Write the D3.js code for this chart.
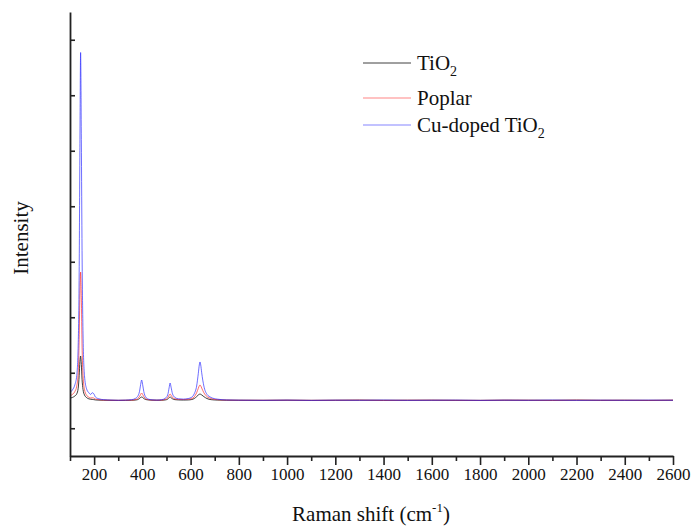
<!DOCTYPE html>
<html>
<head>
<meta charset="utf-8">
<script src="https://cdn.jsdelivr.net/npm/d3@7/dist/d3.min.js"></script>
<style>
  html, body { margin: 0; padding: 0; background: #fff; }
  svg { display: block; }
  text { font-family: "Liberation Serif", "Times New Roman", serif; fill: #111; }
</style>
</head>
<body>
<svg id="chart" width="691" height="526"></svg>
<script>
// Raman shift grid (cm-1)
const ramanShift = [100,110,120,128,134,138,141,144,147,150,
  154,160,168,178,186,192,198,206,220,240,
  270,300,330,355,370,380,388,393,397,401,
  406,414,425,440,460,480,495,505,511,515,
  519,525,535,550,570,590,605,615,625,632,
  636,639,642,646,655,668,685,710,750,800,
  900,1000,1100,1200,1300,1400,1500,1600,1700,1800,1900,2000,2100,2200,2300,2400,2500,2600];

const tio2 = [540,555,580,620,720,950,1200,1302,1150,880,
  700,600,555,530,522,520,516,510,507,505,
  503,502,503,505,508,515,535,555,563,555,
  535,518,510,506,505,505,510,525,550,563,
  550,530,515,510,508,510,518,535,570,600,
  612,617,612,600,570,535,515,508,505,504,
  503,505,502,504,506,503,504,505,503,502,505,504,503,506,503,504,502,505];

const poplar = [580,610,660,760,1000,1600,2400,2815,2350,1500,
  950,700,600,560,545,550,545,525,515,508,
  505,503,505,507,515,530,570,610,635,610,
  570,530,515,508,505,508,520,545,595,617,
  595,555,530,520,518,522,535,565,640,720,
  765,779,765,725,640,570,535,515,508,505,
  504,506,503,505,507,503,505,506,504,502,506,505,503,507,504,505,503,506];

const cuDoped = [640,690,780,950,1500,2800,5000,6770,5200,3200,
  1700,950,720,640,610,640,625,560,530,515,
  508,504,507,515,535,570,660,790,869,790,
  660,560,525,512,507,515,540,600,730,815,
  740,620,555,530,525,535,560,620,760,990,
  1140,1194,1140,1000,760,610,555,525,510,506,
  503,507,502,506,504,508,503,505,507,502,506,504,508,503,506,504,507,505];

const seriesNames = ["TiO", "Poplar", "Cu-doped TiO"];
const seriesSubs = ["2", "", "2"];
const seriesColors = ["#000000", "#ff2020", "#2020ff"];

const xMajorTicks = [200,400,600,800,1000,1200,1400,1600,1800,2000,2200,2400,2600];
const xMinorTicks = [100,300,500,700,900,1100,1300,1500,1700,1900,2100,2300,2500];
const yTicks = [0,1000,2000,3000,4000,5000,6000,7000];

const svg = d3.select("#chart");
const plotLeft = 70, plotRight = 673, plotTop = 12, plotBottom = 456;

const x = d3.scaleLinear().domain([100, 2600]).range([plotLeft, plotRight]);
const y = d3.scaleLinear().domain([-500, 7500]).range([plotBottom, plotTop]);

// lines
const allSeries = [tio2, poplar, cuDoped];
const line = d3.line()
  .x((d, i) => x(ramanShift[i]))
  .y(d => y(d))
  .curve(d3.curveMonotoneX);

svg.append("g").selectAll("path")
  .data(allSeries)
  .join("path")
  .attr("d", d => line(d))
  .attr("fill", "none")
  .attr("stroke", (d, i) => seriesColors[i])
  .attr("stroke-opacity", (d, i) => i === 0 ? 0.75 : 0.65)
  .attr("stroke-width", 1);

// x axis
const gx = svg.append("g").attr("transform", `translate(0,${plotBottom})`);
gx.call(d3.axisBottom(x).tickValues(xMajorTicks).tickSize(9).tickPadding(3).tickFormat(d3.format("d")).tickSizeOuter(0));
const gxm = svg.append("g").attr("transform", `translate(0,${plotBottom})`);
gxm.call(d3.axisBottom(x).tickValues(xMinorTicks).tickSize(5).tickFormat("").tickSizeOuter(0));
gxm.select(".domain").remove();
[gx, gxm].forEach(g => {
  g.selectAll("line").attr("stroke", "#222").attr("stroke-width", 1.6);
  g.selectAll(".domain").attr("stroke", "#222").attr("stroke-width", 1.8);
});
gx.selectAll("text").attr("font-size", 17).attr("font-family", "Liberation Serif").attr("fill", "#111");

// y axis
const gy = svg.append("g").attr("transform", `translate(${plotLeft},0)`);
gy.call(d3.axisLeft(y).tickValues(yTicks).tickSize(-5).tickFormat("").tickSizeOuter(0));
gy.selectAll("line").attr("stroke", "#222").attr("stroke-width", 1.6);
gy.select(".domain").attr("stroke", "#222").attr("stroke-width", 1.8);

// axis titles
const xt = svg.append("text")
  .attr("x", 371).attr("y", 521)
  .attr("text-anchor", "middle")
  .attr("font-size", 21);
xt.append("tspan").text("Raman shift (cm");
xt.append("tspan").attr("font-size", 13).attr("dy", -9).text("-1");
xt.append("tspan").attr("dy", 9).text(")");

svg.append("text")
  .attr("transform", "translate(28,238) rotate(-90)")
  .attr("text-anchor", "middle")
  .attr("font-size", 21)
  .text("Intensity");

// legend
const legendY = [63, 98, 125];
const lg = svg.append("g");
seriesNames.forEach((name, i) => {
  lg.append("line")
    .attr("x1", 363).attr("x2", 411)
    .attr("y1", legendY[i]).attr("y2", legendY[i])
    .attr("stroke", seriesColors[i])
    .attr("stroke-opacity", i === 0 ? 0.75 : 0.55)
    .attr("stroke-width", 1);
  const t = lg.append("text")
    .attr("x", 417).attr("y", legendY[i] + 7)
    .attr("font-size", 21);
  t.append("tspan").text(name);
  if (seriesSubs[i]) {
    t.append("tspan").attr("font-size", 14).attr("dy", 6).text(seriesSubs[i]);
  }
});
</script>
</body>
</html>
